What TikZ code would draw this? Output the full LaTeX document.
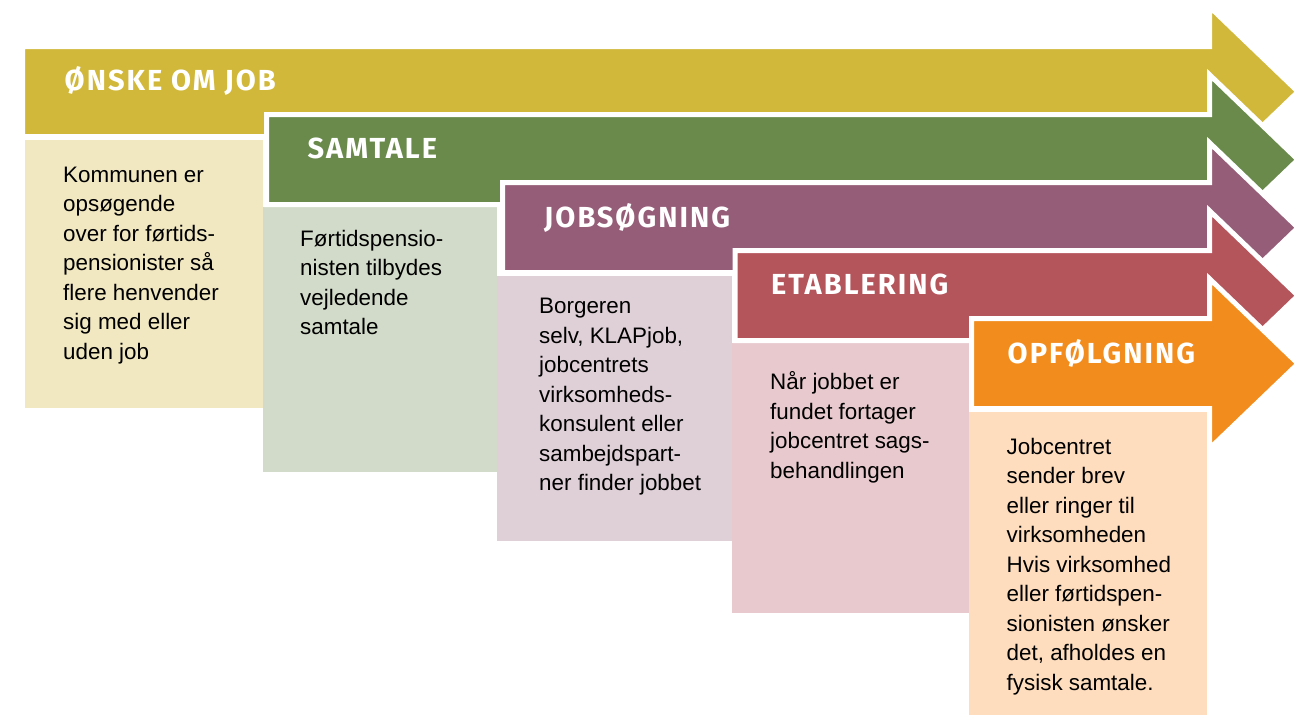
\documentclass[tikz,border=0pt]{standalone}
\usepackage{fontspec}
\setmainfont{Liberation Sans}
\newfontfamily\titlefont[LetterSpace=7]{Fira Sans}
\definecolor{oensk}{RGB}{209,184,58}
\definecolor{samt}{RGB}{106,138,76}
\definecolor{jobs}{RGB}{149,93,120}
\definecolor{etab}{RGB}{180,84,91}
\definecolor{opf}{RGB}{242,140,28}
\definecolor{oenskbox}{RGB}{241,232,194}
\definecolor{samtbox}{RGB}{210,219,201}
\definecolor{jobsbox}{RGB}{223,208,216}
\definecolor{etabbox}{RGB}{232,202,206}
\definecolor{opfbox}{RGB}{253,221,190}
\begin{document}
\begin{tikzpicture}[x=1pt, y=-1pt, font=\fontsize{22.4}{29.5}\selectfont,
  title/.style={text=white, anchor=base west, inner sep=0, font=\titlefont\bfseries\fontsize{29}{29}\selectfont},
  txt/.style={anchor=north west, inner sep=0, align=left}]
\useasboundingbox (0,0) rectangle (1303,715);
%boxes
\fill[oenskbox] (25,140) rectangle (263,408);
\fill[samtbox] (263,207) rectangle (497,472);
\fill[jobsbox] (497,276) rectangle (732,541);
\fill[etabbox] (732,343) rectangle (969,613);
\fill[opfbox] (969,412) rectangle (1207,715);
%arrows
\foreach \l/\c/\col in {22.5/91.7/oensk, 266.5/159.7/samt, 502.5/227.7/jobs, 735/295.7/etab, 971.5/363.7/opf}
\filldraw[fill=\col, draw=white, line width=5pt, line join=miter]
  (\l,\c-45) -- (1209.5,\c-45) -- (1209.5,\c-85) -- (1298,\c)
  -- (1209.5,\c+85) -- (1209.5,\c+45) -- (\l,\c+45) -- cycle;
%titles
\node[title] (oenskTitle) at (64.5,90) {ØNSKE OM JOB};
\node[title] (samtTitle) at (307.5,158) {SAMTALE};
\node[title] (jobsTitle) at (544,227) {JOBSØGNING};
\node[title] (etabTitle) at (771,294) {ETABLERING};
\node[title] (opfTitle) at (1007.5,363) {OPFØLGNING};
%texts
\node[txt] (oenskText) at (63,166.5) {Kommunen er\\opsøgende\\over for førtids-\\pensionister så\\flere henvender\\sig med eller\\uden job};
\node[txt] (samtText) at (300,230) {Førtidspensio-\\nisten tilbydes\\vejledende\\samtale};
\node[txt] (jobsText) at (539,298) {Borgeren\\selv, KLAPjob,\\jobcentrets\\virksomheds-\\konsulent eller\\sambejdspart-\\ner finder jobbet};
\node[txt] (etabText) at (770,371.5) {Når jobbet er\\fundet fortager\\jobcentret sags-\\behandlingen};
\node[txt] (opfText) at (1006.5,438) {Jobcentret\\sender brev\\eller ringer til\\virksomheden\\Hvis virksomhed\\eller førtidspen-\\sionisten ønsker\\det, afholdes en\\fysisk samtale.};
\end{tikzpicture}
\end{document}
